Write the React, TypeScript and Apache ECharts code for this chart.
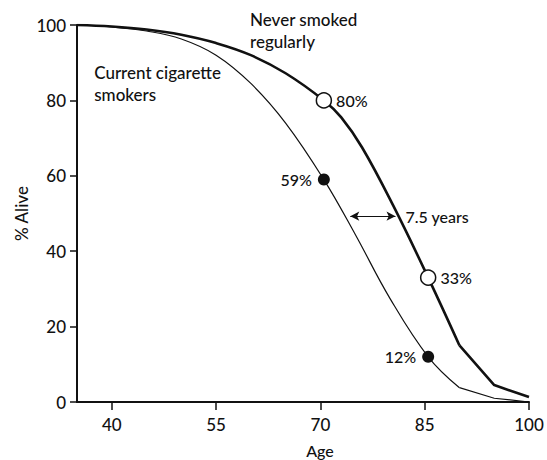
import React, { useEffect, useRef } from "react";
import * as echarts from "echarts";

// Data
const xTicks = [40, 55, 70, 85, 100];
const neverAges = [35, 40, 45, 50, 55, 60, 65, 70.5, 73, 76, 80.5, 85.5, 90, 95, 100];
const neverPct = [100, 99.6, 98.8, 97.4, 95.2, 92, 87.2, 80, 75.5, 67.5, 52, 33, 15, 4.5, 1.3];
const smokerAges = [35, 40, 45, 50, 55, 60, 65, 70.5, 75, 80, 85.5, 90, 95, 100];
const smokerPct = [100, 99.5, 98.4, 96.3, 92, 84.5, 74, 59, 44.5, 27.5, 12, 3.8, 1, 0];
const neverMarkers = [[70.5, 80], [85.5, 33]];
const smokerMarkers = [[70.5, 59], [85.5, 12]];
const gapArrow = { from: [74.3, 49.3], to: [80.8, 49.3], label: "7.5 years" };

const FONT = "Lato";

function pairs(xs: number[], ys: number[]) {
  return xs.map((x, i) => [x, ys[i]]);
}

export default function App() {
  const ref = useRef<HTMLDivElement>(null);
  useEffect(() => {
    if (!ref.current) return;
    const chart = echarts.init(ref.current, null, { renderer: "svg" });
    const never = pairs(neverAges, neverPct);
    const smoke = pairs(smokerAges, smokerPct);
    const iN = neverAges.indexOf(90);
    const iS = smokerAges.indexOf(90);
    const txt = { fontFamily: FONT, color: "#111", fontWeight: 500 as any };
    chart.setOption({
      animation: false,
      backgroundColor: "#fff",
      grid: { left: 77, right: 18, top: 25, bottom: 58, containLabel: false, outerBoundsMode: "none" },
      xAxis: {
        type: "value",
        min: 35,
        max: 100,
        name: "Age",
        nameLocation: "middle",
        nameGap: 40,
        nameMoveOverlap: false,
        nameTextStyle: { ...txt, fontSize: 16, padding: [0, 0, 0, 34] },
        axisLine: { show: true, lineStyle: { color: "#111", width: 2 } },
        axisTick: { show: true, length: 8, lineStyle: { color: "#111", width: 1.5 }, customValues: xTicks },
        axisLabel: { ...txt, fontSize: 17, margin: 14, customValues: xTicks },
        splitLine: { show: false },
      },
      yAxis: {
        type: "value",
        min: 0,
        max: 100,
        interval: 20,
        name: "% Alive",
        nameLocation: "middle",
        nameGap: 47,
        nameMoveOverlap: false,
        nameTextStyle: { ...txt, fontSize: 17 },
        axisLine: { show: true, lineStyle: { color: "#111", width: 2 } },
        axisTick: { show: true, length: 7, lineStyle: { color: "#111", width: 1.5 } },
        axisLabel: { ...txt, fontSize: 17, margin: 11 },
        splitLine: { show: false },
      },
      graphic: [
        {
          type: "text",
          left: 250,
          top: 8,
          style: { text: "Never smoked\nregularly", font: `500 17px ${FONT}`, fill: "#111", lineHeight: 22 },
        },
        {
          type: "text",
          right: 547 - 221,
          top: 61,
          style: { text: "Current cigarette\nsmokers", font: `500 17px ${FONT}`, fill: "#111", lineHeight: 22, align: "right" },
        },
      ],
      series: [
        {
          type: "line",
          name: "Never smoked regularly",
          data: never.slice(0, iN + 1),
          smooth: 0.4,
          showSymbol: false,
          lineStyle: { color: "#111", width: 2.6 },
          z: 3,
        },
        {
          type: "line",
          name: "Never smoked regularly (tail)",
          data: never.slice(iN),
          smooth: false,
          showSymbol: false,
          lineStyle: { color: "#111", width: 2.6 },
          z: 3,
        },
        {
          type: "line",
          name: "Current cigarette smokers",
          data: smoke.slice(0, iS + 1),
          smooth: 0.4,
          showSymbol: false,
          lineStyle: { color: "#111", width: 1.2 },
          z: 3,
          markLine: {
            silent: true,
            symbol: ["arrow", "arrow"],
            symbolSize: [7, 9],
            lineStyle: { color: "#111", width: 1, type: "solid" },
            label: {
              show: true,
              position: "end",
              formatter: gapArrow.label,
              ...txt,
              fontSize: 16,
              distance: 10,
            },
            data: [[{ coord: gapArrow.from }, { coord: gapArrow.to }]],
          },
        },
        {
          type: "line",
          name: "Current cigarette smokers (tail)",
          data: smoke.slice(iS),
          smooth: false,
          showSymbol: false,
          lineStyle: { color: "#111", width: 1.2 },
          z: 3,
        },
        {
          type: "scatter",
          name: "Never markers",
          data: neverMarkers,
          symbol: "circle",
          symbolSize: 15,
          itemStyle: { color: "#fff", borderColor: "#111", borderWidth: 1.5, opacity: 1 },
          label: {
            show: true,
            position: "right",
            distance: 4,
            formatter: (p: any) => `${p.value[1]}%`,
            ...txt,
            fontSize: 16,
          },
          z: 5,
        },
        {
          type: "scatter",
          name: "Smoker markers",
          data: smokerMarkers,
          symbol: "circle",
          symbolSize: 12,
          itemStyle: { color: "#111", opacity: 1 },
          label: {
            show: true,
            position: "left",
            distance: 6,
            formatter: (p: any) => `${p.value[1]}%`,
            ...txt,
            fontSize: 16,
          },
          z: 5,
        },
      ],
    });
    return () => chart.dispose();
  }, []);
  return (
    <div
      ref={ref}
      style={{ position: "absolute", left: 0, top: 0, width: 547, height: 460 }}
    />
  );
}
